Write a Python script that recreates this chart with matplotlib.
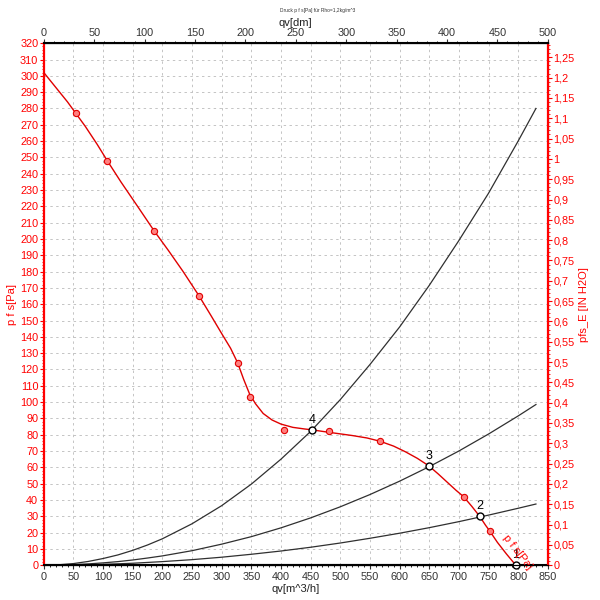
import matplotlib
matplotlib.use("Agg")
import matplotlib.pyplot as plt
from matplotlib.ticker import MultipleLocator, FuncFormatter

plt.rcParams['font.family'] = ['Liberation Sans', 'DejaVu Sans']

# Fan curve (line)
fan_q = [0, 20, 40, 54, 70, 90, 107, 130, 160, 186, 210, 235, 262, 282, 300, 315, 327,
         337, 347, 357, 370, 385, 400, 420, 440, 452, 480, 500, 520, 545, 567, 590, 610,
         630, 649, 665, 680, 695, 708, 722, 735, 745, 752, 765, 780, 796]
fan_p = [302, 293, 284, 277, 269, 258, 248, 235, 219, 205, 193, 180, 165, 153, 142, 133, 124,
         114, 105, 99, 93, 89, 86.5, 84.5, 83.5, 83, 81.5, 80.5, 79.5, 78, 76, 73, 69.5,
         65.5, 61, 56, 51, 46, 42, 36, 30, 24.5, 21, 14, 7, 0]
# Fan curve measured points (markers)
mark_q = [54, 107, 186, 262, 327, 347, 405, 481, 567, 708, 752]
mark_p = [277, 248, 205, 165, 124, 103, 83, 82, 76, 42, 21]

# System curves
sys_q = [0, 25, 50, 75, 100, 125, 150, 175, 200, 250, 300, 350, 400, 450, 500, 550, 600,
         650, 700, 750, 800, 830]
sys_a = [0, 0.25, 1.0, 2.3, 4.1, 6.3, 9.1, 12.4, 16.2, 25.4, 36.5, 49.7, 65, 82, 101.5,
         123, 146, 171.5, 199, 228, 260, 280]
sys_b = [0, 0.09, 0.36, 0.8, 1.43, 2.2, 3.2, 4.4, 5.7, 8.9, 12.9, 17.5, 22.9, 29, 35.8,
         43.3, 51.5, 60.4, 70, 80.4, 91.5, 98.5]
sys_c = [0, 0.03, 0.14, 0.3, 0.55, 0.85, 1.2, 1.7, 2.2, 3.4, 4.9, 6.7, 8.7, 11, 13.6,
         16.5, 19.6, 23, 26.7, 30.7, 34.9, 37.5]

# Operating points
op_labels = ["4", "3", "2", "1"]
op_q = [452, 649, 735, 796]
op_p = [83, 61, 30, 0]

PA_PER_INH2O = 249.089

fig = plt.figure(figsize=(6, 6), dpi=100)
ax = fig.add_axes([0.073, 0.058, 0.84, 0.87])

red = "#ff0000"
ax.set_xlim(0, 850)
ax.set_ylim(0, 320)

# grid
for xv in range(50, 850, 50):
    ax.axvline(xv, color="#c4c4c4", lw=0.7, ls=(0, (2.5, 3.5)), zorder=0)
for yv in range(10, 320, 10):
    ax.axhline(yv, color="#c4c4c4", lw=0.7, ls=(0, (2.5, 3.5)), zorder=0)

ax.plot(sys_q, sys_a, color="#303030", lw=0.9, zorder=2)
ax.plot(sys_q, sys_b, color="#303030", lw=0.9, zorder=2)
ax.plot(sys_q, sys_c, color="#303030", lw=0.9, zorder=2)
ax.plot([0, op_q[-1]], [0, 0], color="black", lw=1.5, zorder=2)

ax.plot(fan_q, fan_p, color="#e00000", lw=1.0, zorder=3)
ax.plot(mark_q, mark_p, ls="none", marker="o", ms=4.5, mfc="#ff8080",
        mec="#e00000", mew=0.8, zorder=4)

ax.plot(op_q, op_p, ls="none", marker="o", ms=5, mfc="white", mec="black",
        mew=1.0, zorder=5, clip_on=False)
for lab, q, p in zip(op_labels, op_q, op_p):
    ax.annotate(lab, (q, p), xytext=(0, 3), textcoords="offset points",
                ha="center", va="bottom", fontsize=9, color="black", zorder=6)

ax.text(799, 8, "p f s[Pa]", color=red, fontsize=8, rotation=-52,
        ha="center", va="center", clip_on=False, zorder=6)

# bottom/left axes
ax.xaxis.set_major_locator(MultipleLocator(50))
ax.xaxis.set_minor_locator(MultipleLocator(10))
ax.yaxis.set_major_locator(MultipleLocator(10))
ax.yaxis.set_minor_locator(MultipleLocator(2))
ax.tick_params(axis="x", labelsize=7.8, colors="#333333", length=3, width=0.8, pad=2)
ax.tick_params(axis="x", which="minor", length=1.5)
ax.tick_params(axis="y", labelsize=7.8, colors=red, length=3, width=0.8, pad=1)
ax.tick_params(axis="y", which="minor", length=1.5, colors=red)
ax.set_xlabel("qv[m^3/h]", fontsize=8, labelpad=1, color="#222222")
ax.set_ylabel("p f s[Pa]", fontsize=8, color=red, labelpad=2)

ax.spines["left"].set_color(red)
ax.spines["left"].set_linewidth(1.6)
ax.spines["bottom"].set_color("black")
ax.spines["bottom"].set_linewidth(1.5)

# right axis
ax2 = ax.twinx()
ax2.set_ylim(0, 320 / PA_PER_INH2O)
ax2.yaxis.set_major_locator(MultipleLocator(0.05))
ax2.yaxis.set_minor_locator(MultipleLocator(0.01))
ax2.yaxis.set_major_formatter(FuncFormatter(lambda v, pos: ("%g" % round(v, 2)).replace(".", ",")))
ax2.tick_params(axis="y", labelsize=7.8, colors=red, length=3, width=0.8, pad=1)
ax2.tick_params(axis="y", which="minor", length=1.5, colors=red)
ax2.set_ylabel("pfs_E [IN H2O]", fontsize=8, color=red, labelpad=3)
ax2.spines["right"].set_color(red)
ax2.spines["right"].set_linewidth(1.6)
ax2.spines["left"].set_visible(False)

# top axis
ax3 = ax.twiny()
ax3.set_xlim(0, 500)
ax3.xaxis.set_major_locator(MultipleLocator(50))
ax3.xaxis.set_minor_locator(MultipleLocator(10))
ax3.tick_params(axis="x", labelsize=7.8, colors="#333333", length=3, width=0.8, pad=1)
ax3.tick_params(axis="x", which="minor", length=1.5)
ax3.set_xlabel("qv[dm]", fontsize=8, labelpad=1, color="#222222")
ax3.spines["top"].set_color("black")
ax3.spines["top"].set_linewidth(1.5)
ax3.spines["left"].set_visible(False)
ax3.spines["right"].set_visible(False)

fig.text(0.53, 0.983, "Druck p f s[Pa] für Rho=1,2kg/m^3", fontsize=3.5,
         ha="center", va="center", color="#333333")

fig.savefig("out.png", dpi=100)
